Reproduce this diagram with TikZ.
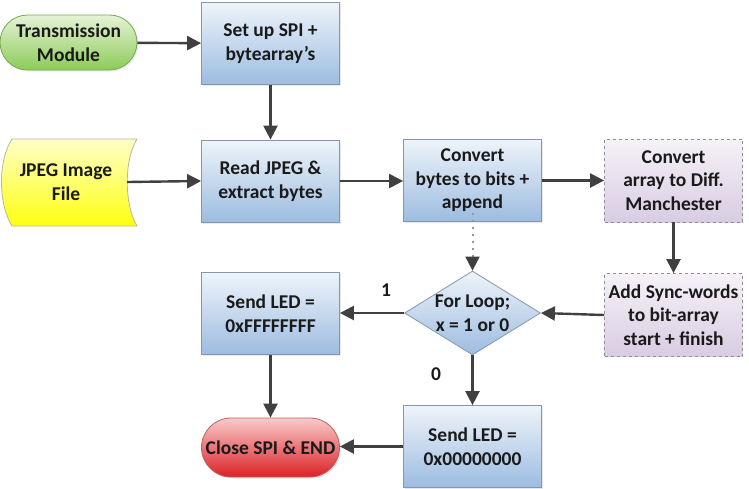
\documentclass[tikz,border=0pt]{standalone}
\usepackage{fontspec}
\setmainfont{Carlito}
\usetikzlibrary{arrows.meta,shapes.geometric,shapes.misc,shadows}
\definecolor{txt}{HTML}{1A1A1A}
\definecolor{arr}{HTML}{404040}
\definecolor{bluetop}{HTML}{EEF4FA}
\definecolor{bluebot}{HTML}{9CBCE0}
\definecolor{blueedge}{HTML}{8797AB}
\definecolor{greentop}{HTML}{E6F3D6}
\definecolor{greenbot}{HTML}{8CCB58}
\definecolor{greenedge}{HTML}{78A850}
\definecolor{yeltop}{HTML}{FFFFC8}
\definecolor{yelbot}{HTML}{FFFF10}
\definecolor{yeledge}{HTML}{B8B8A0}
\definecolor{redtop}{HTML}{F8CACA}
\definecolor{redbot}{HTML}{DC2226}
\definecolor{rededge}{HTML}{C06060}
\definecolor{lavtop}{HTML}{F6F2F8}
\definecolor{lavbot}{HTML}{D8CCE2}
\definecolor{lavedge}{HTML}{909090}
\tikzset{
  base/.style={font=\bfseries\fontsize{19.5}{23.5}\selectfont, text=txt, align=center, inner sep=0pt},
  procbox/.style={base, rectangle, draw=blueedge, line width=0.8pt, top color=bluetop, bottom color=bluebot,
     minimum width=138pt, minimum height=82pt, drop shadow={opacity=0.18, shadow xshift=1.5pt, shadow yshift=-1.5pt}},
  lavbox/.style={base, rectangle, draw=lavedge, dashed, line width=0.8pt, top color=lavtop, bottom color=lavbot,
     minimum width=138pt, minimum height=83pt},
  termgreen/.style={base, rounded rectangle, draw=greenedge, line width=0.8pt, top color=greentop, bottom color=greenbot,
     minimum width=137pt, minimum height=55pt, drop shadow={opacity=0.15, shadow xshift=1.5pt, shadow yshift=-1.5pt}},
  termred/.style={base, rounded rectangle, draw=rededge, line width=0.8pt, top color=redtop, bottom color=redbot,
     minimum width=138pt, minimum height=59pt, drop shadow={opacity=0.15, shadow xshift=1.5pt, shadow yshift=-1.5pt}},
  decis/.style={diamond, draw=blueedge, line width=0.8pt, top color=bluetop, bottom color=bluebot,
     minimum width=136pt, minimum height=84pt, inner sep=0pt},
  conn/.style={draw=arr, line width=2.4pt, -{Triangle[length=14pt,width=14pt]}},
  dotconn/.style={draw=arr!55, line width=2pt, dash pattern=on 1.6pt off 5.4pt, -{Triangle[length=14pt,width=14pt,color=arr]}},
  lbl/.style={font=\bfseries\fontsize{19.5}{22}\selectfont, text=txt, inner sep=0pt}
}
\begin{document}
\begin{tikzpicture}[x=1pt,y=-1pt]
\useasboundingbox (0,0) rectangle (749,488);
% JPEG tape shape
\draw[draw=yeledge, line width=0.8pt, top color=yeltop, bottom color=yelbot]
  (12,139) -- (137,139) .. controls (124,160) and (124,204) .. (137,226)
  -- (12,226) .. controls (-2,204) and (-2,160) .. (12,139) -- cycle;
\node[base] (jpeg) at (66,182) [minimum width=122pt, minimum height=40pt] {JPEG Image\\File};

\node[termgreen] (tm) at (68.5,42.5) {Transmission\\Module};
\node[procbox] (setup) at (270.5,43.5) {Set up SPI +\\bytearray’s};
\node[procbox] (read) at (270.5,181) {Read JPEG \&\\extract bytes};
\node[procbox] (conv) at (472.5,180.5) {Convert\\bytes to bits +\\append};
\node[lavbox] (man) at (673.5,180.5) {Convert\\array to Diff.\\Manchester};
\node[lavbox] (sync) at (673.5,315) {Add Sync-words\\to bit-array\\start + finish};
\node[decis, label={[base]center:For Loop;\\x = 1 or 0}] (dia) at (472.5,313) {};
\node[procbox] (led1) at (270.5,313.5) {Send LED =\\0xFFFFFFFF};
\node[procbox] (led0) at (472.5,446.5) {Send LED =\\0x00000000};
\node[termred] (end) at (270.5,447.5) {Close SPI \& END};

\draw[conn] (tm) -- (setup);
\draw[conn] (setup) -- (read);
\draw[conn] (jpeg.east) -- (read.west);
\draw[conn] (read.east) -- (conv.west |- read.east);
\draw[conn] (conv.east) -- (man.west);
\draw[conn] (man) -- (sync);
\draw[conn] (sync.west) -- (dia.east);
\draw[conn] (dia.west) -- (led1.east |- dia.west);
\draw[conn] (dia.south) -- (led0.north);
\draw[conn] (led1) -- (end);
\draw[conn] (led0.west) -- (end.east |- led0.west);
\draw[dotconn] ([yshift=9pt]conv.south) -- (dia.north);

\node[lbl] (l1) at (386,290) {1};
\node[lbl] (l0) at (436,374) {0};
\end{tikzpicture}
\end{document}
